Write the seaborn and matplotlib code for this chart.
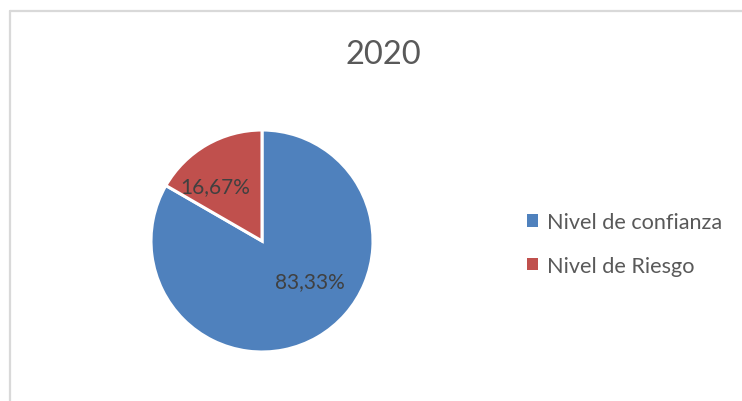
import matplotlib
matplotlib.use("Agg")
import numpy as np
import matplotlib.pyplot as plt
import seaborn as sns
from matplotlib.patches import Patch
from matplotlib.lines import Line2D

categories = ["Nivel de confianza", "Nivel de Riesgo"]
values = [83.33, 16.67]
labels = ["83,33%", "16,67%"]
title = "2020"

sns.set_theme(style="white")
plt.rcParams['font.family'] = ['Lato', 'DejaVu Sans']
colors = ["#4F81BD", "#C0504D"]

W, H = 742, 402
fig = plt.figure(figsize=(W / 100, H / 100), dpi=100)

# chart border (only top and left are visible in the crop)
fig.add_artist(Line2D([9.5 / W, 9.5 / W], [0, 1 - 11.5 / H], color="#d9d9d9", lw=1.6))
fig.add_artist(Line2D([9.5 / W, 1], [1 - 11.5 / H, 1 - 11.5 / H], color="#d9d9d9", lw=1.6))

cx, cy, r = 262, 242, 111
ax = fig.add_axes([(cx - r) / W, (H - cy - r) / H, 2 * r / W, 2 * r / H])
wedges, _ = ax.pie(values, colors=colors, startangle=90, counterclock=False,
                   radius=1, wedgeprops=dict(edgecolor="white", linewidth=2.2))
# label placement similar to Excel's "best fit"
label_dist = [0.56, 0.65]
label_shift = [20, 10]
for w, lab, d, s in zip(wedges, labels, label_dist, label_shift):
    ang = np.deg2rad((w.theta1 + w.theta2) / 2 + s)
    ax.text(d * np.cos(ang), d * np.sin(ang), lab, ha="center", va="center",
            fontsize=15, color="#404040")
ax.set_xlim(-1, 1)
ax.set_ylim(-1, 1)
ax.set_aspect("equal")
ax.axis("off")

fig.text(383 / W, 1 - 55 / H, title, ha="center", va="center", fontsize=23.5, color="#595959")

handles = [Patch(facecolor=c, edgecolor="none") for c in colors]
leg = fig.legend(handles, categories, loc="center left", bbox_to_anchor=(510 / W, 1 - 245 / H),
                 frameon=False, fontsize=15.6, handlelength=0.5, handleheight=0.5,
                 handletextpad=0.4, labelspacing=1.1, borderpad=0.3)
for t in leg.get_texts():
    t.set_color("#595959")

fig.savefig("out.png", dpi=100)
